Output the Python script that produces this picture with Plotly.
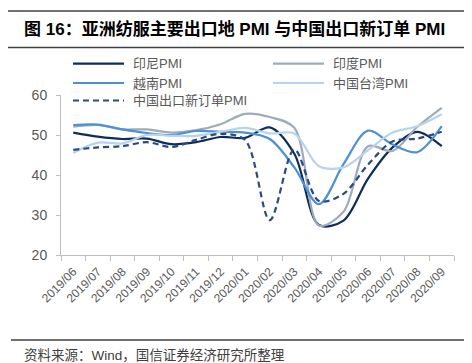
import plotly.graph_objects as go

months = ["2019/06", "2019/07", "2019/08", "2019/09", "2019/10", "2019/11", "2019/12",
          "2020/01", "2020/02", "2020/03", "2020/04", "2020/05", "2020/06", "2020/07",
          "2020/08", "2020/09"]
indonesia = [50.6, 49.6, 49.0, 49.1, 47.7, 48.2, 49.5, 49.3, 51.9, 45.3, 27.5, 28.6, 39.1, 46.9, 50.8, 47.2]
india = [52.1, 52.5, 51.4, 51.4, 50.6, 51.2, 52.7, 55.3, 54.5, 51.8, 27.4, 30.8, 47.2, 46.0, 52.0, 56.8]
vietnam = [52.5, 52.6, 51.4, 50.5, 50.0, 51.0, 50.8, 50.6, 49.0, 41.9, 32.7, 42.7, 51.1, 47.6, 45.7, 52.2]
taiwan = [45.5, 48.1, 47.9, 50.0, 49.8, 49.8, 50.8, 51.8, 50.4, 50.4, 42.2, 41.9, 46.2, 50.6, 52.2, 55.2]
china_export = [46.3, 46.9, 47.2, 48.2, 47.0, 48.8, 50.3, 48.7, 28.7, 46.4, 33.5, 35.3, 42.6, 48.4, 49.1, 50.8]

series = [
    ("印尼PMI", indonesia, "#0e2d5a", "solid"),
    ("印度PMI", india, "#9eabb8", "solid"),
    ("越南PMI", vietnam, "#4d90d6", "solid"),
    ("中国台湾PMI", taiwan, "#b7d3ee", "solid"),
    ("中国出口新订单PMI", china_export, "#2b4b80", "dash"),
]

W, H = 472, 363
L, R, T, B = 53, 446, 87, 247

fig = go.Figure()
for name, vals, color, dash in series:
    fig.add_trace(go.Scatter(
        x=months, y=vals, name=name, mode="lines",
        line=dict(color=color, width=2.2, dash=("6px,4px" if dash == "dash" else "solid"),
                  shape="spline", smoothing=0.9),
        showlegend=False,
    ))

def px_x(p):
    return (p - L) / (R - L)

def px_y(p):
    return (B - p) / (B - T)

shapes = []
annotations = []
# legend
legend_pos = [(65, 55.7), (265, 55.7), (65, 75), (265, 75), (65, 92.5)]
for (name, vals, color, dash), (lx, ly) in zip(series, legend_pos):
    shapes.append(dict(type="line", xref="paper", yref="paper",
                       x0=px_x(lx), x1=px_x(lx + 51), y0=px_y(ly), y1=px_y(ly),
                       line=dict(color=color, width=2.2,
                                 dash=("6px,4px" if dash == "dash" else "solid"))))
    annotations.append(dict(text=name, xref="paper", yref="paper",
                            x=px_x(lx + 58), y=px_y(ly), xanchor="left", yanchor="middle",
                            showarrow=False, font=dict(size=13, color="#595959")))

# title and rules
shapes.append(dict(type="line", xref="paper", yref="paper", x0=px_x(0), x1=px_x(472),
                   y0=px_y(3), y1=px_y(3), line=dict(color="#404040", width=1.5)))
shapes.append(dict(type="line", xref="paper", yref="paper", x0=px_x(0), x1=px_x(472),
                   y0=px_y(39.5), y1=px_y(39.5), line=dict(color="#404040", width=1.5)))
shapes.append(dict(type="line", xref="paper", yref="paper", x0=px_x(3), x1=px_x(472),
                   y0=px_y(332), y1=px_y(332), line=dict(color="#404040", width=1.5)))
annotations.append(dict(text="<b>图 16：亚洲纺服主要出口地 PMI 与中国出口新订单 PMI</b>",
                        xref="paper", yref="paper", x=px_x(14), y=px_y(21),
                        xanchor="left", yanchor="middle", showarrow=False,
                        font=dict(size=17, color="#000000")))
annotations.append(dict(text="资料来源：Wind，国信证券经济研究所整理",
                        xref="paper", yref="paper", x=px_x(14), y=px_y(347),
                        xanchor="left", yanchor="middle", showarrow=False,
                        font=dict(size=13.5, color="#404040")))

fig.update_layout(
    width=W, height=H,
    margin=dict(l=L, r=W - R, t=T, b=H - B, pad=0),
    paper_bgcolor="white", plot_bgcolor="white",
    font=dict(family="Liberation Sans, Noto Sans CJK SC, sans-serif", color="#595959"),
    shapes=shapes, annotations=annotations,
    xaxis=dict(type="category", tickson="boundaries", ticks="outside", ticklen=5,
               tickcolor="#bfbfbf", showline=True, linecolor="#bfbfbf", linewidth=1,
               showgrid=False, tickangle=-45, tickfont=dict(size=12, color="#595959"),
               ticklabelstandoff=4,
               range=[-0.5, 15.5], zeroline=False),
    yaxis=dict(range=[20, 60], dtick=10, ticks="outside", ticklen=4, tickcolor="#bfbfbf",
               showline=True, linecolor="#bfbfbf", linewidth=1, showgrid=False,
               ticklabelstandoff=6,
               zeroline=False, tickfont=dict(size=14, color="#595959")),
)

fig.write_html("out.html")
